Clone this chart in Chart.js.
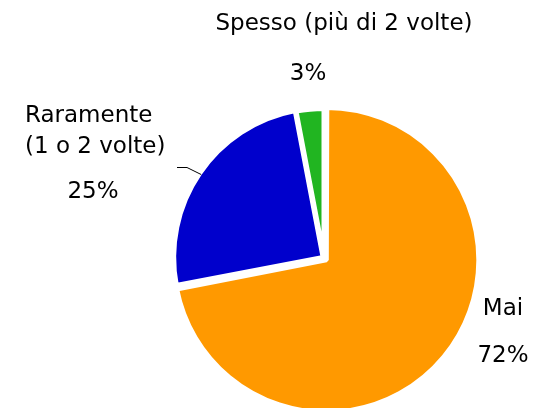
<!DOCTYPE html>
<html>
<head>
<meta charset="utf-8">
<script src="https://cdn.jsdelivr.net/npm/chart.js@4"></script>
<style>
  body { margin: 0; background: #fff; }
  #box { width: 538px; height: 408px; }
</style>
</head>
<body>
<div id="box"><canvas id="grafico"></canvas></div>
<script>
// DATI
const categorie = ["Mai", "Raramente\n(1 o 2 volte)", "Spesso (più di 2 volte)"];
const percentuali = [72, 25, 3];
const colori = ["#FF9900", "#0000CC", "#21B521"];

// posizione delle righe di testo rispetto al centro della torta: [dx, dy, allineamento]
const posizioni = [
    [[179, 57, "center"], [179, 104, "center"]],
    [[-299, -136, "left"], [-299, -105, "left"], [-231, -60, "center"]],
    [[20, -228, "center"], [-16, -178, "center"]]
];

// Etichette + linea guida
const etichette = {
    id: "etichette",
    afterDatasetsDraw(chart) {
        const ctx = chart.ctx;
        const meta = chart.getDatasetMeta(0);
        const cx = meta.data[0].x;
        const cy = meta.data[0].y;

        ctx.save();
        ctx.fillStyle = "#000";
        ctx.font = "23px 'DejaVu Sans'";
        ctx.textBaseline = "alphabetic";
        meta.data.forEach(function(arco, i) {
            let testi = categorie[i].split("\n").concat([percentuali[i] + "%"]);
            testi.forEach(function(t, j) {
                let p = posizioni[i][j];
                ctx.textAlign = p[2];
                ctx.fillText(t, cx + p[0], cy + p[1]);
            });
        });

        // linea per "Raramente"
        const a = meta.data[1];
        const mezzo = (a.startAngle + a.endAngle) / 2;
        const r = a.outerRadius - 2 + a.options.offset / 4;
        ctx.strokeStyle = "#000";
        ctx.lineWidth = 1;
        ctx.beginPath();
        ctx.moveTo(cx - 147, cy - 90.5);
        ctx.lineTo(cx - 137, cy - 90.5);
        ctx.lineTo(cx + Math.cos(mezzo) * r, cy + Math.sin(mezzo) * r);
        ctx.stroke();
        ctx.restore();
    }
};

new Chart(document.getElementById("grafico"), {
    type: "pie",
    data: {
        labels: categorie,
        datasets: [{
            data: percentuali,
            backgroundColor: colori,
            borderColor: "#fff",
            borderWidth: 5,
            offset: [12, 4, 0]
        }]
    },
    options: {
        responsive: true,
        maintainAspectRatio: false,
        animation: false,
        radius: 149.5,
        layout: { padding: { left: 110, top: 108, right: 0, bottom: 0 } },
        plugins: {
            legend: { display: false },
            tooltip: { enabled: false }
        }
    },
    plugins: [etichette]
});
</script>
</body>
</html>
